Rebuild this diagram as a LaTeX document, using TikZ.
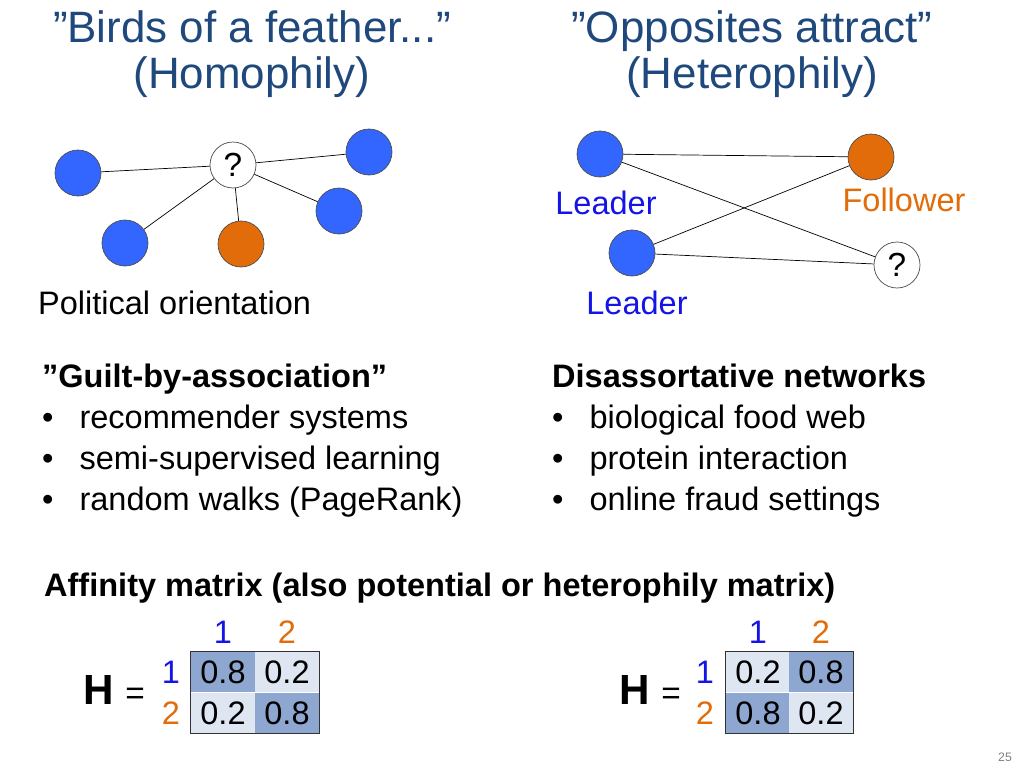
\documentclass[tikz,border=0pt]{standalone}
\usepackage{fontspec}
\setmainfont{Liberation Sans}
\definecolor{titleblue}{RGB}{31,73,125}
\definecolor{nodeblue}{RGB}{51,102,255}
\definecolor{nodeorange}{RGB}{227,108,10}
\definecolor{txtblue}{RGB}{20,20,230}
\definecolor{celldark}{RGB}{141,167,209}
\definecolor{celllight}{RGB}{222,230,242}
\tikzstyle{vtx} = [circle, draw=black!70, minimum size=0.92cm, inner sep=0pt]
\tikzstyle{bluevtx} = [vtx, fill=nodeblue]
\tikzstyle{orangevtx} = [vtx, fill=nodeorange]
\tikzstyle{query} = [vtx, fill=white, font=\fontsize{19}{20}\selectfont]
\tikzstyle{edge} = [black, thin]
\tikzstyle{title} = [text=titleblue, align=center, font=\fontsize{25}{26}\selectfont]
\tikzstyle{body} = [anchor=west, font=\fontsize{18.5}{23.2}\selectfont]
\tikzstyle{cell} = [minimum width=1.28cm, minimum height=0.8cm, inner sep=0pt, font=\fontsize{18.5}{20}\selectfont]
\newcommand{\qq}{{\char34}}

\begin{document}
\begin{tikzpicture}[x=0.02cm, y=-0.02cm]
\useasboundingbox (0,0) rectangle (1024,768);

% titles
\node (t1) [title] at (252,54) {\qq Birds of a feather...\qq\\(Homophily)};
\node (t2) [title] at (752,54) {\qq Opposites attract\qq\\(Heterophily)};

% homophily graph
\node (q1) [query] at (233,165) {?};
\node (a) [bluevtx] at (78,173) {};
\node (b) [bluevtx] at (369,152) {};
\node (c) [bluevtx] at (339,211) {};
\node (d) [bluevtx] at (125,243) {};
\node (e) [orangevtx] at (241,244) {};
\draw [edge] (a) -- (q1);
\draw [edge] (q1) -- (b);
\draw [edge] (q1) -- (c);
\draw [edge] (q1) -- (d);
\draw [edge] (q1) -- (e);
\node (pol) [body] at (32,303) {Political orientation};

% heterophily graph
\node (l1) [bluevtx] at (600,154) {};
\node (f) [orangevtx] at (871,157) {};
\node (l2) [bluevtx] at (632,253) {};
\node (q2) [query] at (897,265) {?};
\draw [edge] (l1) -- (f);
\draw [edge] (l1) -- (q2);
\draw [edge] (l2) -- (f);
\draw [edge] (l2) -- (q2);
\node (l1lab) [body, anchor=center, text=txtblue] at (606,203) {Leader};
\node (flab) [body, anchor=center, text=nodeorange] at (904,200) {Follower};
\node (l2lab) [body, anchor=center, text=txtblue] at (637,303) {Leader};

% lists
\node (list1) [body, align=left, anchor=north west] at (36,358) {\textbf{\qq Guilt-by-association\qq}\\
\textbullet\hspace{0.8em}recommender systems\\
\textbullet\hspace{0.8em}semi-supervised learning\\
\textbullet\hspace{0.8em}random walks (PageRank)};
\node (list2) [body, align=left, anchor=north west] at (546,358) {\textbf{Disassortative networks}\\
\textbullet\hspace{0.8em}biological food web\\
\textbullet\hspace{0.8em}protein interaction\\
\textbullet\hspace{0.8em}online fraud settings};
\node (aff) [body] at (38,588) {\textbf{Affinity matrix (also potential or heterophily matrix)}};

% left matrix
\node (m11) [cell, fill=celldark] at (223,672) {0.8};
\node (m12) [cell, fill=celllight] at (287,672) {0.2};
\node (m21) [cell, fill=celllight] at (223,713) {0.2};
\node (m22) [cell, fill=celldark] at (287,713) {0.8};
\draw [black!80] (m11.north west) rectangle (m22.south east);
\node (c1) [cell, text=txtblue] at (223,632) {1};
\node (c2) [cell, text=nodeorange] at (287,632) {2};
\node (r1) [cell, text=txtblue, minimum width=0.5cm] at (171,672) {1};
\node (r2) [cell, text=nodeorange, minimum width=0.5cm] at (171,713) {2};
\node (h1) [body, anchor=center] at (114,690) {\fontsize{24}{26}\selectfont\textbf{H} \fontsize{19}{20}\selectfont=};

% right matrix
\node (n11) [cell, fill=celllight] at (758,672) {0.2};
\node (n12) [cell, fill=celldark] at (821,672) {0.8};
\node (n21) [cell, fill=celldark] at (758,713) {0.8};
\node (n22) [cell, fill=celllight] at (821,713) {0.2};
\draw [black!80] (n11.north west) rectangle (n22.south east);
\node (d1) [cell, text=txtblue] at (758,632) {1};
\node (d2) [cell, text=nodeorange] at (821,632) {2};
\node (s1) [cell, text=txtblue, minimum width=0.5cm] at (705,672) {1};
\node (s2) [cell, text=nodeorange, minimum width=0.5cm] at (705,713) {2};
\node (h2) [body, anchor=center] at (650,690) {\fontsize{24}{26}\selectfont\textbf{H} \fontsize{19}{20}\selectfont=};

\node (pg) [text=black!50, font=\fontsize{7}{8}\selectfont] at (1005,757) {25};
\end{tikzpicture}
\end{document}
